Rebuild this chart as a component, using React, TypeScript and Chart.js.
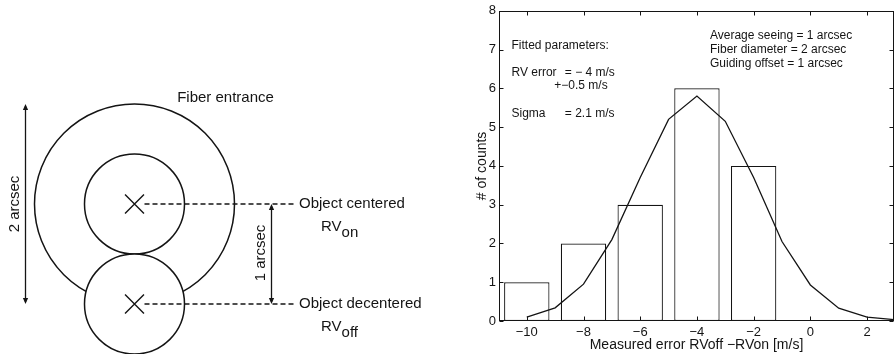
import React, { useEffect, useRef } from 'react';
import { Chart, registerables } from 'chart.js';

Chart.register(...registerables);

// ---------- Histogram (right panel) ----------
const BIN_CENTERS = [-10, -8, -6, -4, -2];
const BIN_COUNTS = [1, 2, 3, 6, 4];
const FIT_X = [-10, -9, -8, -7, -6, -5, -4, -3, -2, -1, 0, 1, 2, 3];
const FIT_Y = [0.1, 0.34, 0.95, 2.1, 3.7, 5.2, 5.8, 5.15, 3.7, 2.05, 0.93, 0.33, 0.1, 0.03];
const X_TICKS = [-10, -8, -6, -4, -2, 0, 2];
const X_TICK_LABELS = ['−10', '−8', '−6', '−4', '−2', '0', '2'];
const Y_TICKS = [0, 1, 2, 3, 4, 5, 6, 7, 8];
const X_MIN = -10.98;
const X_MAX = 2.95;

const X_TITLE = 'Measured error RVoff −RVon [m/s]';
const Y_TITLE = '# of counts';
const FIT_TEXT = ['Fitted parameters:', 'RV error', '= − 4 m/s', '+−0.5 m/s', 'Sigma', '= 2.1 m/s'];
const SETUP_TEXT = ['Average seeing = 1 arcsec', 'Fiber diameter = 2 arcsec', 'Guiding offset = 1 arcsec'];

// ---------- Fiber diagram (left panel), units: arcsec ----------
const FIBER_DIAMETER = 2;
const SEEING_DIAMETER = 1;
const GUIDING_OFFSET = 1;
const OBJECT_X = [0, 0];
const OBJECT_Y = [0, -GUIDING_OFFSET];
const OBJECT_LABELS = ['Object centered', 'Object decentered'];
const RV_SUBSCRIPTS = ['on', 'off'];
const DIAGRAM_TITLE = 'Fiber entrance';

const INK = '#141414';
const FONT = '"Liberation Sans", Arial, Helvetica, sans-serif';
Chart.defaults.font.family = FONT;

function arrowV(ctx: CanvasRenderingContext2D, x: number, y1: number, y2: number) {
  const hl = 6, hw = 2.6;
  ctx.beginPath();
  ctx.moveTo(x, y1 + 2);
  ctx.lineTo(x, y2 - 2);
  ctx.stroke();
  ctx.beginPath();
  ctx.moveTo(x, y1);
  ctx.lineTo(x - hw, y1 + hl);
  ctx.lineTo(x + hw, y1 + hl);
  ctx.closePath();
  ctx.fill();
  ctx.beginPath();
  ctx.moveTo(x, y2);
  ctx.lineTo(x - hw, y2 - hl);
  ctx.lineTo(x + hw, y2 - hl);
  ctx.closePath();
  ctx.fill();
}

const diagramPlugin = {
  id: 'fiberDiagram',
  beforeDatasetsDraw(chart: any) {
    const { ctx, scales } = chart;
    const px = (v: number) => scales.x.getPixelForValue(v);
    const py = (v: number) => scales.y.getPixelForValue(v);
    const unit = px(1) - px(0);
    ctx.save();
    ctx.strokeStyle = INK;
    ctx.lineWidth = 1.5;
    ctx.beginPath();
    ctx.arc(px(0), py(0), (unit * FIBER_DIAMETER) / 2, 0, Math.PI * 2);
    ctx.stroke();
    for (let i = 0; i < OBJECT_X.length; i++) {
      ctx.beginPath();
      ctx.arc(px(OBJECT_X[i]), py(OBJECT_Y[i]), (unit * SEEING_DIAMETER) / 2, 0, Math.PI * 2);
      ctx.fillStyle = '#fff';
      ctx.fill();
      ctx.stroke();
    }
    ctx.restore();
  },
  afterDatasetsDraw(chart: any) {
    const { ctx, scales } = chart;
    const px = (v: number) => scales.x.getPixelForValue(v);
    const py = (v: number) => scales.y.getPixelForValue(v);
    ctx.save();
    ctx.strokeStyle = INK;
    ctx.fillStyle = INK;
    ctx.lineWidth = 1.3;
    // dimension arrows
    arrowV(ctx, Math.round(px(1.365)) + 0.5, py(OBJECT_Y[0]), py(OBJECT_Y[1]));
    arrowV(ctx, Math.round(px(-1.095)) + 0.5, py(FIBER_DIAMETER / 2), py(-FIBER_DIAMETER / 2));

    ctx.font = `15px ${FONT}`;
    ctx.textBaseline = 'middle';
    ctx.textAlign = 'center';
    ctx.fillText(DIAGRAM_TITLE, px(0.91), py(1.062));

    // rotated dimension labels
    const rot = (t: string, x: number, y: number) => {
      ctx.save();
      ctx.translate(px(x), py(y));
      ctx.rotate(-Math.PI / 2);
      ctx.textAlign = 'center';
      ctx.textBaseline = 'middle';
      ctx.fillText(t, 0, 0);
      ctx.restore();
    };
    rot(`${GUIDING_OFFSET} arcsec`, 1.265, -0.49);
    rot(`${FIBER_DIAMETER} arcsec`, -1.195, 0);

    // object labels
    ctx.textAlign = 'left';
    for (let i = 0; i < OBJECT_LABELS.length; i++) {
      ctx.font = `15px ${FONT}`;
      ctx.textBaseline = 'middle';
      ctx.fillText(OBJECT_LABELS[i], px(1.645), py(OBJECT_Y[i]));
      ctx.textBaseline = 'alphabetic';
      const bx = px(1.865);
      const by = py(OBJECT_Y[i] - 0.22) + 5.4;
      ctx.fillText('RV', bx, by);
      const w = ctx.measureText('RV').width;
      ctx.fillText(RV_SUBSCRIPTS[i], bx + w, by + 5.5);
    }
    ctx.restore();
  },
};

const frameTicksPlugin = {
  id: 'frameTicks',
  afterDatasetsDraw(chart: any) {
    const { ctx, chartArea: a, scales } = chart;
    ctx.save();
    ctx.strokeStyle = INK;
    ctx.lineWidth = 1;
    const L = Math.round(a.left) + 0.5, R = Math.round(a.right) - 0.5;
    const T = Math.round(a.top) + 0.5, B = Math.round(a.bottom) - 0.5;
    ctx.strokeRect(L, T, R - L, B - T);
    const tl = 4;
    ctx.beginPath();
    for (const v of X_TICKS) {
      const x = Math.round(scales.x.getPixelForValue(v)) + 0.5;
      ctx.moveTo(x, B); ctx.lineTo(x, B - tl);
      ctx.moveTo(x, T); ctx.lineTo(x, T + tl);
    }
    for (const v of Y_TICKS) {
      const y = Math.round(scales.y.getPixelForValue(v)) + 0.5;
      ctx.moveTo(L, y); ctx.lineTo(L + tl, y);
      ctx.moveTo(R, y); ctx.lineTo(R - tl, y);
    }
    ctx.stroke();
    ctx.restore();
  },
  afterDraw(chart: any) {
    const { ctx, scales } = chart;
    const px = (v: number) => scales.x.getPixelForValue(v);
    const py = (v: number) => scales.y.getPixelForValue(v);
    ctx.save();
    ctx.fillStyle = INK;
    ctx.font = `12px ${FONT}`;
    ctx.textAlign = 'left';
    ctx.textBaseline = 'middle';
    ctx.fillText(FIT_TEXT[0], px(-10.54), py(7.1));
    ctx.fillText(FIT_TEXT[1], px(-10.54), py(6.41));
    ctx.fillText(FIT_TEXT[2], px(-8.66), py(6.41));
    ctx.fillText(FIT_TEXT[3], px(-9.03), py(6.07));
    ctx.fillText(FIT_TEXT[4], px(-10.54), py(5.35));
    ctx.fillText(FIT_TEXT[5], px(-8.66), py(5.35));
    const ys = [7.36, 6.99, 6.63];
    SETUP_TEXT.forEach((t, i) => ctx.fillText(t, px(-3.54), py(ys[i])));
    ctx.restore();
  },
};

export default function App() {
  const leftRef = useRef<HTMLCanvasElement>(null);
  const rightRef = useRef<HTMLCanvasElement>(null);

  useEffect(() => {
    const left = new Chart(leftRef.current as HTMLCanvasElement, {
      type: 'scatter',
      data: {
        datasets: [
          {
            type: 'scatter',
            data: OBJECT_X.map((x, i) => ({ x, y: OBJECT_Y[i] })),
            pointStyle: 'crossRot',
            pointRadius: 13.4,
            pointBorderWidth: 1.4,
            borderColor: INK,
            backgroundColor: INK,
            clip: false,
          } as any,
          ...OBJECT_Y.map((y) => ({
            type: 'line',
            data: [
              { x: 0.1, y },
              { x: 1.6, y },
            ],
            borderColor: INK,
            borderWidth: 1.3,
            borderDash: [5, 3],
            pointRadius: 0,
            showLine: true,
            fill: false,
          } as any)),
        ],
      },
      options: {
        responsive: false,
        animation: false,
        events: [],
        layout: { padding: 0, autoPadding: false },
        plugins: { legend: { display: false }, tooltip: { enabled: false } },
        scales: {
          x: { type: 'linear', display: false, min: -1.345, max: 3.055 },
          y: { type: 'linear', display: false, min: -1.5, max: 2.04 },
        },
      } as any,
      plugins: [diagramPlugin],
    });

    const right = new Chart(rightRef.current as HTMLCanvasElement, {
      type: 'bar',
      data: {
        datasets: [
          {
            type: 'line',
            data: FIT_X.map((x, i) => ({ x, y: FIT_Y[i] })),
            borderColor: INK,
            borderWidth: 1.3,
            pointRadius: 0,
            tension: 0,
            fill: false,
            order: 0,
          } as any,
          {
            type: 'bar',
            data: BIN_CENTERS.map((x, i) => ({ x, y: BIN_COUNTS[i] })),
            backgroundColor: '#fff',
            borderColor: INK,
            borderWidth: 1.2,
            borderSkipped: false,
            barPercentage: 1,
            categoryPercentage: 0.8,
            order: 1,
          } as any,
        ],
      },
      options: {
        responsive: false,
        animation: false,
        events: [],
        layout: { padding: { top: 10, right: 1, left: 0, bottom: 0 }, autoPadding: false },
        plugins: { legend: { display: false }, tooltip: { enabled: false } },
        scales: {
          x: {
            type: 'linear',
            min: X_MIN,
            max: X_MAX,
            offset: false,
            grid: { display: false, drawTicks: false, tickLength: 0 },
            border: { display: false },
            afterBuildTicks: (s: any) => {
              s.ticks = X_TICKS.map((v) => ({ value: v }));
            },
            afterFit: (s: any) => {
              s.height = 33;
            },
            ticks: {
              padding: 4,
              color: INK,
              font: { size: 13 },
              maxRotation: 0,
              autoSkip: false,
              callback: (v: any) => {
                const i = X_TICKS.indexOf(Number(v));
                return i >= 0 ? X_TICK_LABELS[i] : '';
              },
            },
            title: { display: true, text: X_TITLE, color: INK, font: { size: 14 }, padding: { top: 0, bottom: 0 } },
          },
          y: {
            type: 'linear',
            min: 0,
            max: 8,
            grid: { display: false, drawTicks: false, tickLength: 0 },
            border: { display: false },
            afterBuildTicks: (s: any) => {
              s.ticks = Y_TICKS.map((v) => ({ value: v }));
            },
            afterFit: (s: any) => {
              s.width = 59;
            },
            ticks: { padding: 3, color: INK, font: { size: 13 }, autoSkip: false, callback: (v: any) => String(v) },
            title: { display: true, text: Y_TITLE, color: INK, font: { size: 14 }, padding: { top: 33.6, bottom: 0 } },
          },
        },
      } as any,
      plugins: [frameTicksPlugin],
    });

    return () => {
      left.destroy();
      right.destroy();
    };
  }, []);

  return (
    <div
      style={{
        position: 'fixed',
        left: 0,
        top: 0,
        width: 895,
        height: 354,
        background: '#fff',
        overflow: 'hidden',
      }}
    >
      <canvas ref={leftRef} width={440} height={354} style={{ position: 'absolute', left: 0, top: 0 }} />
      <canvas ref={rightRef} width={455} height={354} style={{ position: 'absolute', left: 440, top: 0 }} />
    </div>
  );
}
